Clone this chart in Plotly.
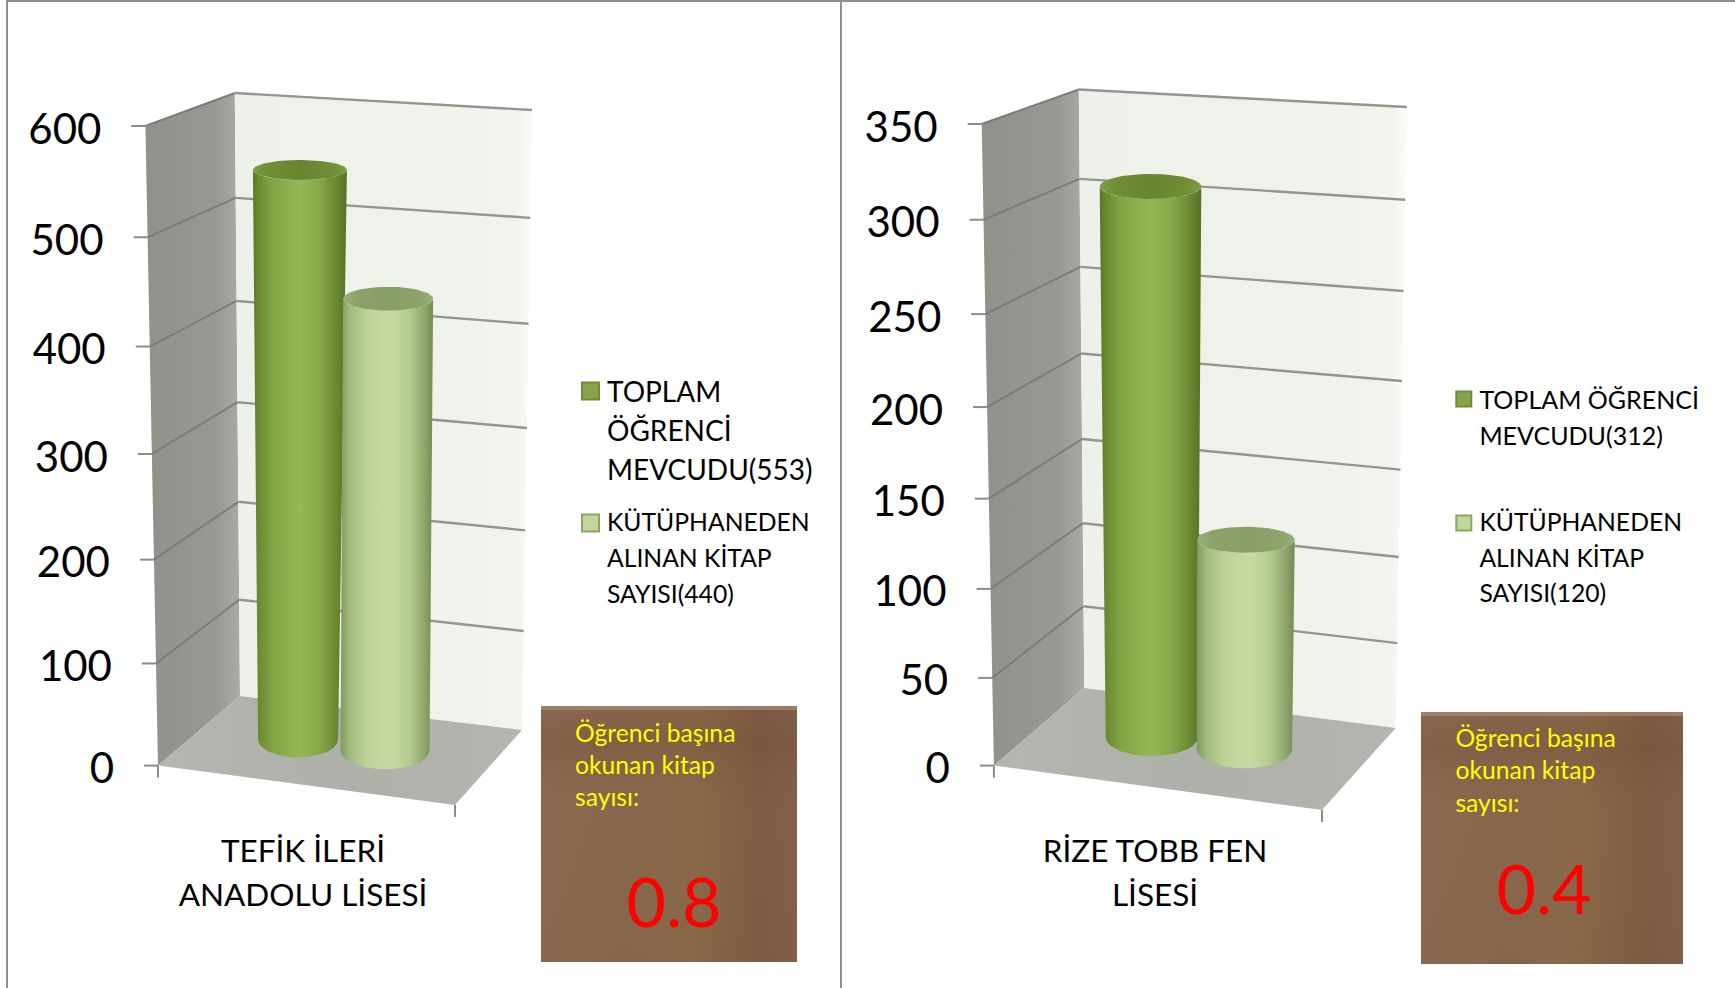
import numpy as np
import plotly.graph_objects as go

# ---- data ----
left_ticks = [0, 100, 200, 300, 400, 500, 600]
left_values = [553, 440]
left_category = ["TEFİK İLERİ", "ANADOLU LİSESİ"]
left_legend_1 = ["TOPLAM", "ÖĞRENCİ", "MEVCUDU(553)"]
left_legend_2 = ["KÜTÜPHANEDEN", "ALINAN KİTAP", "SAYISI(440)"]
left_ratio = "0.8"

right_ticks = [0, 50, 100, 150, 200, 250, 300, 350]
right_values = [312, 120]
right_category = ["RİZE TOBB FEN", "LİSESİ"]
right_legend_1 = ["TOPLAM ÖĞRENCİ", "MEVCUDU(312)"]
right_legend_2 = ["KÜTÜPHANEDEN", "ALINAN KİTAP", "SAYISI(120)"]
right_ratio = "0.4"

box_lines = ["Öğrenci başına", "okunan kitap", "sayısı:"]

# ---- style ----
FONT = "Lato"
GREEN_DARK = [[0, "#5a7628"], [0.06, "#6a8a30"], [0.2, "#82a344"], [0.5, "#95b755"], [0.72, "#86a748"],
              [0.9, "#68862f"], [1, "#557026"]]
GREEN_LIGHT = [[0, "#82985e"], [0.1, "#a4bb7e"], [0.3, "#bfd398"], [0.55, "#c8daa2"], [0.75, "#b4ca8e"],
               [0.92, "#8ba368"], [1, "#73894f"]]
CAP_DARK = [[0, "#7f9e44"], [0.15, "#6f8e35"], [0.5, "#678530"], [0.85, "#6f8e35"], [1, "#7f9e44"]]
CAP_LIGHT = [[0, "#9bb078"], [0.15, "#8ea36c"], [0.5, "#8a9f68"], [0.85, "#8ea36c"], [1, "#9bb078"]]
SW_DARK = ("#86a44a", "#6f8b38")
SW_LIGHT = ("#c1d59c", "#8aa660")
BACK_WALL = [[0, "#eef1e9"], [0.5, "#eff2ea"], [0.95, "#f1f4ed"], [1, "#fbfcfa"]]
SIDE_WALL = [[0, "#8f918b"], [0.75, "#979a94"], [1, "#a9aba6"]]
FLOOR = [[0, "#b4b7b0"], [0.5, "#aeb1aa"], [1, "#b3b6af"]]
BOX_H = [[0, "#8a6a52"], [0.3, "#89674d"], [0.6, "#8a6849"], [0.72, "#866346"], [0.85, "#805c45"],
         [1, "#83604a"]]
BOX_V = [[0, "rgba(90,55,35,0.05)"], [0.6, "rgba(120,90,65,0)"], [0.85, "rgba(100,62,40,0.2)"],
         [1, "rgba(105,70,48,0.1)"]]

fig = go.Figure()


def poly(xs, ys, color=None, scale=None, kind="horizontal", line=None):
    kw = dict(x=xs, y=ys, mode="lines", fill="toself", hoverinfo="skip", showlegend=False,
              line=line or dict(width=0))
    if scale:
        kw["fillgradient"] = dict(type=kind, colorscale=scale)
    else:
        kw["fillcolor"] = color
    fig.add_trace(go.Scatter(**kw))


def text(xs, ys, labels, size, color="black", pos="middle right"):
    fig.add_trace(go.Scatter(x=xs, y=ys, text=labels, mode="text", textposition=pos,
                             textfont=dict(family=FONT, size=size, color=color),
                             hoverinfo="skip", showlegend=False))


def panel(g, ticks, values, category, leg1, leg2, ratio):
    top = ticks[-1]

    def s(v):  # perspective along the value axis
        f = v / top
        return f * 0.95 / (1 - 0.05 * f)

    def pos(u, v, w):
        t = s(v)
        pts = {k: np.array(g[k + "b"]) + t * (np.array(g[k + "t"]) - np.array(g[k + "b"]))
               for k in ("FL", "BL", "BR", "FR")}
        lft = pts["FL"] + w * (pts["BL"] - pts["FL"])
        rgt = pts["FR"] + w * (pts["BR"] - pts["FR"])
        return lft + u * (rgt - lft)

    # walls
    poly([g["FLb"][0], g["FLt"][0], g["BLt"][0], g["BLb"][0]],
         [g["FLb"][1], g["FLt"][1], g["BLt"][1], g["BLb"][1]], scale=SIDE_WALL)
    poly([g["BLb"][0], g["BLt"][0], g["BRt"][0], g["BRb"][0]],
         [g["BLb"][1], g["BLt"][1], g["BRt"][1], g["BRb"][1]], scale=BACK_WALL)
    poly([g["FLb"][0], g["BLb"][0], g["BRb"][0], g["FRb"][0]],
         [g["FLb"][1], g["BLb"][1], g["BRb"][1], g["FRb"][1]], scale=FLOOR)

    # grid
    for v in ticks:
        if v == 0:
            continue
        a, b, c = pos(0, v, 0), pos(0, v, 1), pos(1, v, 1)
        fig.add_trace(go.Scatter(x=[a[0], b[0]], y=[a[1], b[1]], mode="lines", hoverinfo="skip",
                                 showlegend=False, line=dict(color="#7a7d78", width=2)))
        fig.add_trace(go.Scatter(x=[b[0], c[0]], y=[b[1], c[1]], mode="lines", hoverinfo="skip",
                                 showlegend=False, line=dict(color="#93968f", width=2.4)))

    # y ticks and labels
    tx, ty = [], []
    for v in ticks:
        a = pos(0, v, 0)
        tx += [a[0] - 14, a[0], None]
        ty += [a[1], a[1], None]
    fig.add_trace(go.Scatter(x=tx, y=ty, mode="lines", hoverinfo="skip", showlegend=False,
                             line=dict(color="#8c8c8c", width=2)))
    text([pos(0, v, 0)[0] - 44 for v in ticks], [pos(0, v, 0)[1] + 7 for v in ticks],
         [str(v) for v in ticks], 42, pos="middle left")

    # x ticks
    xt, yt = [], []
    for u in (0, 1):
        a = pos(u, 0, 0)
        xt += [a[0], a[0], None]
        yt += [a[1], a[1] + 12, None]
    fig.add_trace(go.Scatter(x=xt, y=yt, mode="lines", hoverinfo="skip", showlegend=False,
                             line=dict(color="#8c8c8c", width=2)))

    # cylinders
    th = np.linspace(0, np.pi, 60)
    ring = np.linspace(0, 2 * np.pi, 90)
    for i, val in enumerate(values):
        b = g["bars"][i]
        base = pos(b["u"], 0, b["w"])
        head = pos(b["u"], val, b["w"])
        hy0 = base[1] + (head[1] - base[1]) * b["hs"]
        hx0 = head[0] + b["dx"]
        bx = base[0] + b["hb"] * np.cos(th)
        by = base[1] + b["rb"] * np.sin(th)
        hx = hx0 - b["ht"] * np.cos(th)
        hy = hy0 + b["rt"] * np.sin(th)
        poly(np.r_[bx, hx].tolist(), np.r_[by, hy].tolist(),
             scale=GREEN_DARK if i == 0 else GREEN_LIGHT)
        poly((hx0 + b["ht"] * np.cos(ring)).tolist(), (hy0 + b["rt"] * np.sin(ring)).tolist(),
             scale=CAP_DARK if i == 0 else CAP_LIGHT)

    # category label
    text([g["cat_x"]] * len(category), g["cat_y"][:len(category)], category, 31.5, pos="middle center")

    # legend
    lg = g["legend"]
    for lines, ys, sy, col, size in ((leg1, lg["y1"], lg["s1"], SW_DARK, lg["f1"]),
                                     (leg2, lg["y2"], lg["s2"], SW_LIGHT, lg["f2"])):
        fig.add_trace(go.Scatter(x=[lg["sx"]], y=[sy], mode="markers", hoverinfo="skip", showlegend=False,
                                 marker=dict(symbol="square", size=lg["ss"], color=col[0],
                                             line=dict(color=col[1], width=2))))
        text([lg["tx"]] * len(lines), ys, lines, size)

    # note box
    x0, y0, x1, y1 = g["box"]
    poly([x0, x1, x1, x0], [y0, y0, y1, y1], scale=BOX_H)
    poly([x0, x1, x1, x0], [y0, y0, y1, y1], scale=BOX_V, kind="vertical")
    poly([x0, x1, x1, x0], [y0, y0, y0 + 4, y0 + 4], color="rgba(165,140,120,0.7)")
    text([g["box_tx"]] * 3, g["box_ty"], box_lines, 24.7, color="#ffff00")
    text([g["ratio_xy"][0]], [g["ratio_xy"][1]], [ratio], 68, color="#ff0000", pos="middle center")


LEFT_GEO = dict(
    FLb=(158, 765.6), FLt=(145.4, 126), BLb=(240, 696), BLt=(234.8, 93),
    BRb=(522, 730), BRt=(532, 110), FRb=(455, 805), FRt=(469, 147),
    bars=[dict(u=0.329, w=0.55, hb=40, ht=47, rb=18, rt=10, hs=0.992, dx=3.5),
          dict(u=0.63, w=0.55, hb=44.5, ht=45, rb=19, rt=12, hs=0.99, dx=0)],
    cat_x=303, cat_y=[854.5, 898.5],
    legend=dict(sx=590.5, ss=17, tx=607, s1=391, s2=523, y1=[394.5, 433.5, 472.5], y2=[525, 561, 597], f1=28, f2=24.7),
    box=(541, 706, 797, 962), box_tx=575, box_ty=[735.5, 767.5, 799.5], ratio_xy=(674, 909.5),
)
RIGHT_GEO = dict(
    FLb=(993.9, 765.6), FLt=(981.7, 124), BLb=(1084.3, 688), BLt=(1078.8, 89.5),
    BRb=(1395.7, 728), BRt=(1406.9, 107), FRb=(1322, 810), FRt=(1336, 145),
    bars=[dict(u=0.339, w=0.55, hb=46, ht=50.8, rb=19, rt=12.5, hs=0.993, dx=0),
          dict(u=0.6295, w=0.55, hb=47.7, ht=48.8, rb=19, rt=13, hs=1.0, dx=0)],
    cat_x=1155, cat_y=[854.5, 898.5],
    legend=dict(sx=1463.8, ss=15, tx=1479.4, s1=399, s2=523, y1=[402.5, 438.5], y2=[524.5, 560.5, 595.5], f1=25, f2=24.7),
    box=(1421, 712, 1683, 964), box_tx=1455.4, box_ty=[741, 773, 805.5], ratio_xy=(1544, 896.5),
)

# page frame
fig.add_trace(go.Scatter(x=[7, 7, 1735, None, 841, 841], y=[988, 1, 1, None, 1, 988], mode="lines",
                         hoverinfo="skip", showlegend=False, line=dict(color="#909090", width=2)))

panel(LEFT_GEO, left_ticks, left_values, left_category, left_legend_1, left_legend_2, left_ratio)
panel(RIGHT_GEO, right_ticks, right_values, right_category, right_legend_1, right_legend_2, right_ratio)

fig.update_layout(
    width=1735, height=988, margin=dict(l=0, r=0, t=0, b=0),
    paper_bgcolor="white", plot_bgcolor="white", showlegend=False,
    xaxis=dict(range=[0, 1735], visible=False, fixedrange=True),
    yaxis=dict(range=[988, 0], visible=False, fixedrange=True),
)
fig.write_html("out.html", config=dict(displayModeBar=False),
               post_script="document.body.style.margin='0';")
